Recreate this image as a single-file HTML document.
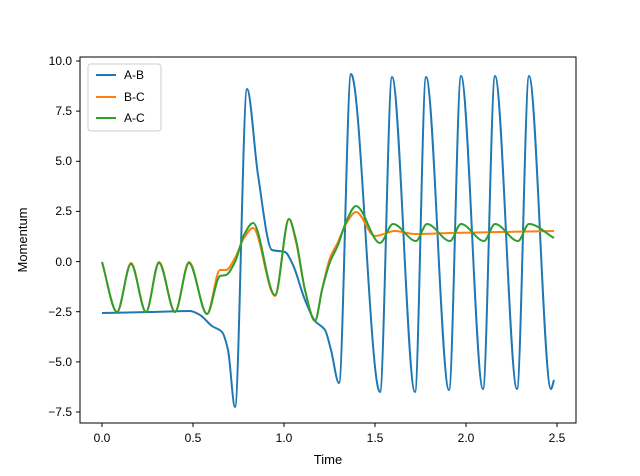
<!DOCTYPE html><html><head><style>body{margin:0;background:#fff}svg{display:block;font-family:"Liberation Sans",sans-serif}</style></head><body>
<svg id="s" width="640" height="476" xmlns="http://www.w3.org/2000/svg">
<rect width="640" height="476" fill="#fff"/>
<g id="lines" fill="none" stroke-width="2" stroke-linejoin="round"></g>
<rect x="80" y="57" width="496" height="366" fill="none" stroke="#000" stroke-width="1"/>
<g stroke="#000" stroke-width="1">
<line x1="102" y1="423" x2="102" y2="427"/><line x1="193" y1="423" x2="193" y2="427"/><line x1="284" y1="423" x2="284" y2="427"/><line x1="375" y1="423" x2="375" y2="427"/><line x1="466" y1="423" x2="466" y2="427"/><line x1="557" y1="423" x2="557" y2="427"/>
<line x1="76" y1="61" x2="80" y2="61"/><line x1="76" y1="111.1" x2="80" y2="111.1"/><line x1="76" y1="161.3" x2="80" y2="161.3"/><line x1="76" y1="211.4" x2="80" y2="211.4"/><line x1="76" y1="261.6" x2="80" y2="261.6"/><line x1="76" y1="311.7" x2="80" y2="311.7"/><line x1="76" y1="361.9" x2="80" y2="361.9"/><line x1="76" y1="412" x2="80" y2="412"/>
</g>
<g font-size="12" text-anchor="middle">
<text x="102" y="442">0.0</text><text x="193" y="442">0.5</text><text x="284" y="442">1.0</text><text x="375" y="442">1.5</text><text x="466" y="442">2.0</text><text x="557" y="442">2.5</text>
</g>
<g font-size="12" text-anchor="end">
<text x="72" y="65">10.0</text><text x="72" y="115">7.5</text><text x="72" y="165">5.0</text><text x="72" y="215">2.5</text><text x="72" y="266">0.0</text><text x="72" y="316">−2.5</text><text x="72" y="366">−5.0</text><text x="72" y="416">−7.5</text>
</g>
<text x="328" y="464" font-size="13" text-anchor="middle">Time</text>
<text transform="translate(27,240) rotate(-90)" font-size="13" text-anchor="middle">Momentum</text>
<rect x="88" y="64" width="73" height="67" rx="3" fill="#fff" fill-opacity="0.8" stroke="#ccc"/>
<line x1="96" y1="75" x2="116" y2="75" stroke="#1f77b4" stroke-width="2"/>
<line x1="96" y1="97" x2="116" y2="97" stroke="#ff7f0e" stroke-width="2"/>
<line x1="96" y1="118" x2="116" y2="118" stroke="#2ca02c" stroke-width="2"/>
<g font-size="12"><text x="124" y="79">A-B</text><text x="124" y="101">B-C</text><text x="124" y="122">A-C</text></g>
</svg>
<script>
function mono(p){var n=p.length,d=[],m=[];for(var i=0;i<n-1;i++)d.push((p[i+1][1]-p[i][1])/(p[i+1][0]-p[i][0]));
m[0]=d[0];m[n-1]=d[n-2];for(i=1;i<n-1;i++){if(d[i-1]*d[i]<=0)m[i]=0;else{var w1=2*(p[i+1][0]-p[i][0])+(p[i][0]-p[i-1][0]),w2=(p[i+1][0]-p[i][0])+2*(p[i][0]-p[i-1][0]);m[i]=(w1+w2)/(w1/d[i-1]+w2/d[i]);}}
var s="M"+p[0][0]+","+p[0][1];for(i=0;i<n-1;i++){var h=p[i+1][0]-p[i][0];s+=" C"+(p[i][0]+h/3).toFixed(2)+","+(p[i][1]+m[i]*h/3).toFixed(2)+" "+(p[i+1][0]-h/3).toFixed(2)+","+(p[i+1][1]-m[i+1]*h/3).toFixed(2)+" "+p[i+1][0]+","+p[i+1][1];}return s;}
var blue=[[102,313],[150,312],[190,311],[200,315],[212,326],[222,332],[228,350],[235,407],[247,89],[258,175],[272,250],[285,252],[293,265],[305,300],[315,321],[325,330],[331,350],[339,383],[351,74],[380,392],[392,77],[415,392],[426,77],[449,390],[461,76],[483,389],[495,76],[517,389],[529,76],[551,389],[554,380]];
var green=[[102,262],[117,312],[131,264],[146,312],[159,263],[175,312],[189,263],[207,314],[220,276],[226,275],[235,262],[244,235],[253,223],[275,295],[289,219],[296,240],[305,290],[315,321],[322,290],[330,262],[338,245],[346,222],[356,206],[380,243],[393,224],[416,241],[427,224],[450,241],[461,224],[484,241],[495,224],[518,241],[529,224],[554,238]];
var orange=[[102,262],[117,312],[131,263],[146,312],[159,262],[175,312],[189,262],[207,314],[220,270],[226,270],[235,258],[244,238],[253,228],[275,296],[289,219],[296,242],[305,290],[315,321],[322,290],[330,258],[338,242],[346,224],[356,212],[375,236],[395,231],[415,234],[450,233],[500,232],[554,231]];
var g=document.getElementById("lines");
[[blue,"#1f77b4"],[orange,"#ff7f0e"],[green,"#2ca02c"]].forEach(function(s){var p=document.createElementNS("http://www.w3.org/2000/svg","path");p.setAttribute("d",mono(s[0]));p.setAttribute("stroke",s[1]);g.appendChild(p);});
</script>
</body></html>
